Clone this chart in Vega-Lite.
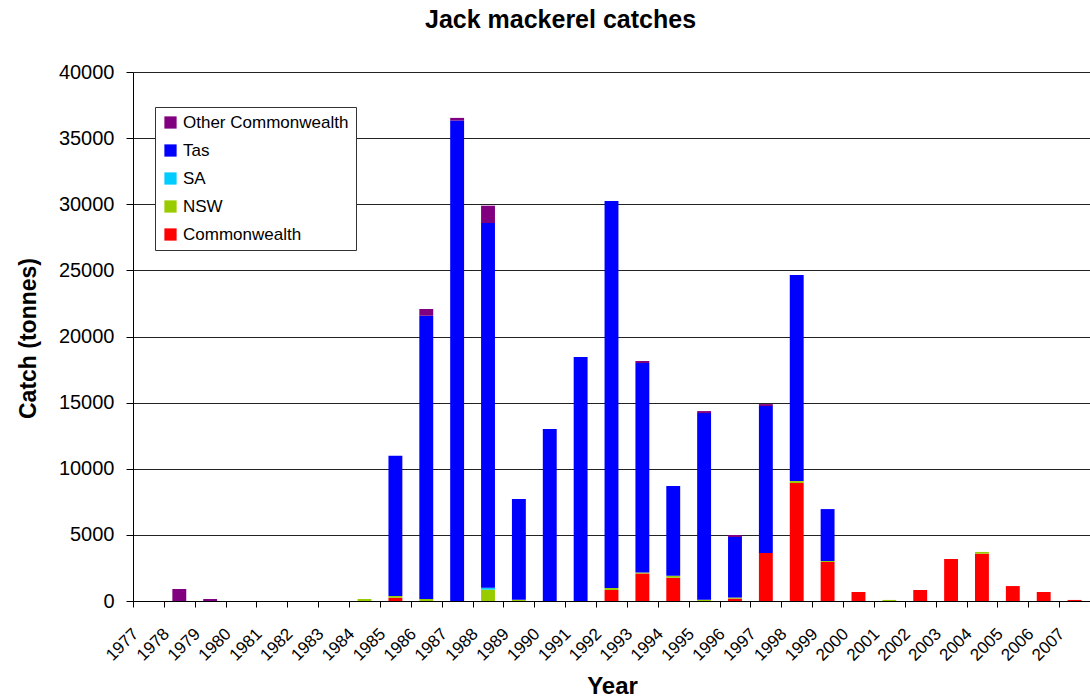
{
  "$schema": "https://vega.github.io/schema/vega-lite/v6.json",
  "autosize": {"type": "none"},
  "padding": {"left": 133, "top": 72, "right": 0, "bottom": 97},
  "width": 957,
  "height": 529,
  "background": "white",
  "config": {
    "font": "Liberation Sans",
    "view": {"stroke": null}
  },
  "title": {
    "text": "Jack mackerel catches",
    "font": "Liberation Sans",
    "fontSize": 25,
    "fontWeight": "bold",
    "color": "black",
    "anchor": "middle",
    "frame": "group",
    "dx": -51,
    "baseline": "middle",
    "offset": 17
  },
  "data": {
    "values": [
      {"year": "1977", "series": "Commonwealth", "catch": 0},
      {"year": "1978", "series": "Other Commonwealth", "catch": 900},
      {"year": "1979", "series": "Other Commonwealth", "catch": 150},
      {"year": "1980", "series": "Commonwealth", "catch": 0},
      {"year": "1981", "series": "Commonwealth", "catch": 0},
      {"year": "1982", "series": "Commonwealth", "catch": 0},
      {"year": "1983", "series": "Commonwealth", "catch": 0},
      {"year": "1984", "series": "NSW", "catch": 150},
      {"year": "1985", "series": "Commonwealth", "catch": 250},
      {"year": "1985", "series": "NSW", "catch": 130},
      {"year": "1985", "series": "Tas", "catch": 10600},
      {"year": "1986", "series": "NSW", "catch": 150},
      {"year": "1986", "series": "Tas", "catch": 21420},
      {"year": "1986", "series": "Other Commonwealth", "catch": 510},
      {"year": "1987", "series": "Tas", "catch": 36330},
      {"year": "1987", "series": "Other Commonwealth", "catch": 200},
      {"year": "1988", "series": "NSW", "catch": 860},
      {"year": "1988", "series": "SA", "catch": 150},
      {"year": "1988", "series": "Tas", "catch": 27570},
      {"year": "1988", "series": "Other Commonwealth", "catch": 1310},
      {"year": "1989", "series": "NSW", "catch": 90},
      {"year": "1989", "series": "Tas", "catch": 7620},
      {"year": "1990", "series": "Tas", "catch": 13000},
      {"year": "1991", "series": "Tas", "catch": 18450},
      {"year": "1992", "series": "Commonwealth", "catch": 830},
      {"year": "1992", "series": "NSW", "catch": 150},
      {"year": "1992", "series": "Tas", "catch": 29260},
      {"year": "1993", "series": "Commonwealth", "catch": 2070},
      {"year": "1993", "series": "NSW", "catch": 80},
      {"year": "1993", "series": "Tas", "catch": 15840},
      {"year": "1993", "series": "Other Commonwealth", "catch": 160},
      {"year": "1994", "series": "Commonwealth", "catch": 1760},
      {"year": "1994", "series": "NSW", "catch": 150},
      {"year": "1994", "series": "Tas", "catch": 6780},
      {"year": "1995", "series": "NSW", "catch": 100},
      {"year": "1995", "series": "Tas", "catch": 14110},
      {"year": "1995", "series": "Other Commonwealth", "catch": 150},
      {"year": "1996", "series": "Commonwealth", "catch": 180},
      {"year": "1996", "series": "NSW", "catch": 80},
      {"year": "1996", "series": "Tas", "catch": 4580},
      {"year": "1996", "series": "Other Commonwealth", "catch": 150},
      {"year": "1997", "series": "Commonwealth", "catch": 3630},
      {"year": "1997", "series": "Tas", "catch": 11110},
      {"year": "1997", "series": "Other Commonwealth", "catch": 150},
      {"year": "1998", "series": "Commonwealth", "catch": 8920},
      {"year": "1998", "series": "NSW", "catch": 150},
      {"year": "1998", "series": "Tas", "catch": 15580},
      {"year": "1999", "series": "Commonwealth", "catch": 2950},
      {"year": "1999", "series": "NSW", "catch": 75},
      {"year": "1999", "series": "Tas", "catch": 3925},
      {"year": "2000", "series": "Commonwealth", "catch": 680},
      {"year": "2001", "series": "NSW", "catch": 80},
      {"year": "2002", "series": "Commonwealth", "catch": 830},
      {"year": "2003", "series": "Commonwealth", "catch": 3175},
      {"year": "2004", "series": "Commonwealth", "catch": 3580},
      {"year": "2004", "series": "NSW", "catch": 130},
      {"year": "2005", "series": "Commonwealth", "catch": 1130},
      {"year": "2006", "series": "Commonwealth", "catch": 680},
      {"year": "2007", "series": "Commonwealth", "catch": 80}
    ]
  },
  "transform": [
    {"calculate": "indexof(['Commonwealth', 'NSW', 'SA', 'Tas', 'Other Commonwealth'], datum.series)", "as": "stackRank"}
  ],
  "mark": {"type": "bar"},
  "encoding": {
    "x": {
      "field": "year",
      "type": "ordinal",
      "scale": {"paddingInner": 0.55, "paddingOuter": 0.275},
      "axis": {
        "title": "Year",
        "titleFont": "Liberation Sans",
        "titleFontSize": 24,
        "titleFontWeight": "bold",
        "titleColor": "black",
        "titleX": 479,
        "titleY": 85,
        "titleBaseline": "middle",
        "labelAngle": -45,
        "labelAlign": "right",
        "labelBaseline": "middle",
        "labelFont": "Liberation Sans",
        "labelFontSize": 17,
        "labelColor": "black",
        "labelPadding": 24,
        "labelOffset": 2.4,
        "tickOffset": -15.44,
        "tickSize": 6,
        "tickColor": "black",
        "domainColor": "black",
        "grid": false
      }
    },
    "y": {
      "field": "catch",
      "type": "quantitative",
      "stack": "zero",
      "scale": {"domain": [0, 40000], "nice": false},
      "axis": {
        "title": "Catch (tonnes)",
        "titleFont": "Liberation Sans",
        "titleFontSize": 23,
        "titleFontWeight": "bold",
        "titleColor": "black",
        "titleX": -105,
        "titleY": 266,
        "titleBaseline": "middle",
        "titleAngle": -90,
        "values": [0, 5000, 10000, 15000, 20000, 25000, 30000, 35000, 40000],
        "format": "d",
        "labelFont": "Liberation Sans",
        "labelFontSize": 20,
        "labelColor": "black",
        "labelPadding": 12,
        "tickSize": 7,
        "tickColor": "black",
        "domainColor": "black",
        "grid": true,
        "gridColor": "#222",
        "gridWidth": 1
      }
    },
    "order": {"field": "stackRank", "type": "quantitative", "sort": "ascending"},
    "color": {
      "field": "series",
      "type": "nominal",
      "sort": ["Other Commonwealth", "Tas", "SA", "NSW", "Commonwealth"],
      "scale": {
        "domain": ["Other Commonwealth", "Tas", "SA", "NSW", "Commonwealth"],
        "range": ["#800080", "#0000FF", "#00CCFF", "#99CC00", "#FF0000"]
      },
      "legend": {
        "title": null,
        "orient": "none",
        "legendX": 22,
        "legendY": 35,
        "strokeColor": "#333",
        "fillColor": "white",
        "padding": 7,
        "symbolType": "square",
        "symbolSize": 150,
        "symbolStrokeWidth": 0,
        "symbolOpacity": 1,
        "labelFont": "Liberation Sans",
        "labelFontSize": 17,
        "labelColor": "black",
        "labelOffset": 4,
        "rowPadding": 10,
        "labelLimit": 300
      }
    }
  }
}
